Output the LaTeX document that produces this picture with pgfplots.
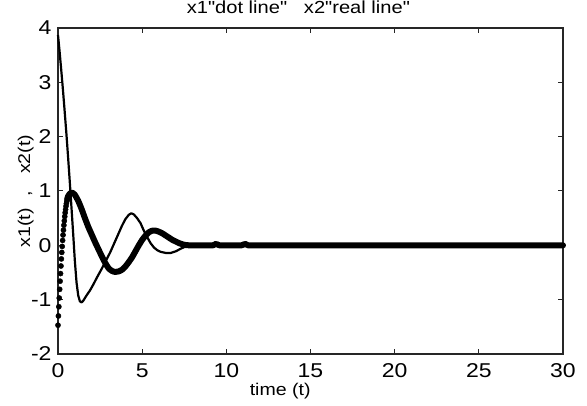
\documentclass[border=0pt]{standalone}
\usepackage{fontspec}
\setmainfont{Liberation Sans}[FakeStretch=1.15, Ligatures=TeXOff]
\usepackage{pgfplots}
\pgfplotsset{compat=1.18}

\begin{document}
\begin{tikzpicture}
\path[use as bounding box] (-58pt,-52pt) rectangle (529pt,354pt);
\begin{axis}[
  scale only axis, width=505pt, height=326pt,
  xmin=0, xmax=30, ymin=-2, ymax=4,
  xtick={0,5,...,30}, ytick={-2,-1,...,4},
  tick align=inside, major tick length=5pt,
  axis line style={line width=1.2pt, black!85},
  every tick/.style={line width=1pt, black!85},
  /pgf/number format/assume math mode=true,
  tick label style={font=\fontsize{20}{22}\selectfont},
  xticklabel style={yshift=-6pt},
  yticklabel style={xshift=-3pt},
  title={x1"dot line"\ \ \ x2"real line"},
  title style={font=\fontsize{17.5}{20}\selectfont,
    at={(axis description cs:0.476,1)}, anchor=base, yshift=9pt},
  xlabel={time (t)},
  xlabel style={font=\fontsize{17}{20}\selectfont,
    at={(axis description cs:0.44,-0.126)}, anchor=base},
  ylabel={x1(t)\hspace{12pt},\hspace{17pt}x2(t)},
  ylabel style={font=\fontsize{17}{20}\selectfont,
    at={(axis description cs:-0.055,0.5)}, anchor=base},
  clip=false,
]
% x1: dots where the curve is steep
\addplot[only marks, mark=*, mark size=2.6pt, black] coordinates {
  (0.000,-1.47)(0.025,-1.30)(0.050,-1.13)(0.075,-0.97)(0.100,-0.81)
  (0.125,-0.66)(0.150,-0.52)(0.175,-0.38)(0.200,-0.25)(0.225,-0.13)
  (0.250,-0.02)(0.275,0.09)(0.300,0.19)(0.325,0.28)(0.350,0.37)
  (0.375,0.45)(0.400,0.53)(0.425,0.60)(0.450,0.66)(0.475,0.72)
  (0.500,0.77)(0.525,0.81)(0.550,0.85)(0.575,0.88)(0.600,0.90)
};
% x1: dense part, drawn as heavy line
\addplot[black, line width=6pt, line cap=round, line join=round, smooth, tension=0.4] coordinates {
  (0.55,0.85)(0.6,0.90)(0.7,0.95)(0.8,0.97)(0.9,0.96)(1.0,0.93)
  (1.2,0.82)(1.4,0.67)(1.6,0.50)(1.8,0.34)(2.0,0.20)(2.2,0.06)
  (2.4,-0.07)(2.6,-0.20)(2.8,-0.32)(3.0,-0.42)(3.2,-0.47)(3.4,-0.49)
  (3.6,-0.48)(3.8,-0.45)(4.0,-0.39)(4.2,-0.31)(4.4,-0.22)(4.6,-0.11)
  (4.8,0.00)(5.0,0.10)(5.2,0.18)(5.4,0.24)(5.6,0.27)(5.8,0.27)
  (6.0,0.25)(6.2,0.22)(6.4,0.18)(6.6,0.14)(6.8,0.10)(7.0,0.07)
  (7.2,0.04)(7.5,0.01)(7.8,0.00)(8.5,0.00)(9.2,0.00)(9.4,0.03)
  (9.6,0.00)(10.9,0.00)(11.1,0.03)(11.3,0.00)(12,0.00)(20,0.00)(30,0.00)
};
% x2: real line
\addplot[black, line width=2.2pt, line join=round] coordinates {
  (0,3.87)(0.1,3.55)(0.2,3.20)(0.3,2.84)(0.4,2.45)(0.5,2.05)
  (0.6,1.62)(0.7,1.17)(0.8,0.70)(0.9,0.22)(1.0,-0.28)(1.1,-0.68)
  (1.2,-0.92)(1.3,-1.03)(1.4,-1.05)(1.5,-1.02)(1.7,-0.92)(1.9,-0.83)
  (2.1,-0.72)(2.3,-0.60)(2.6,-0.43)(2.8,-0.31)(3.1,-0.13)(3.4,0.08)
  (3.6,0.22)(3.8,0.36)(4.0,0.48)(4.2,0.56)(4.35,0.59)(4.5,0.57)
  (4.7,0.50)(4.9,0.41)(5.1,0.27)(5.3,0.15)(5.5,0.04)(5.7,-0.04)
  (5.9,-0.09)(6.1,-0.12)(6.4,-0.14)(6.7,-0.14)(7.0,-0.11)(7.3,-0.06)
  (7.6,-0.02)(8.0,0.00)(12,0.00)(20,0.00)(30,0.00)
};
\end{axis}
\end{tikzpicture}
\end{document}
